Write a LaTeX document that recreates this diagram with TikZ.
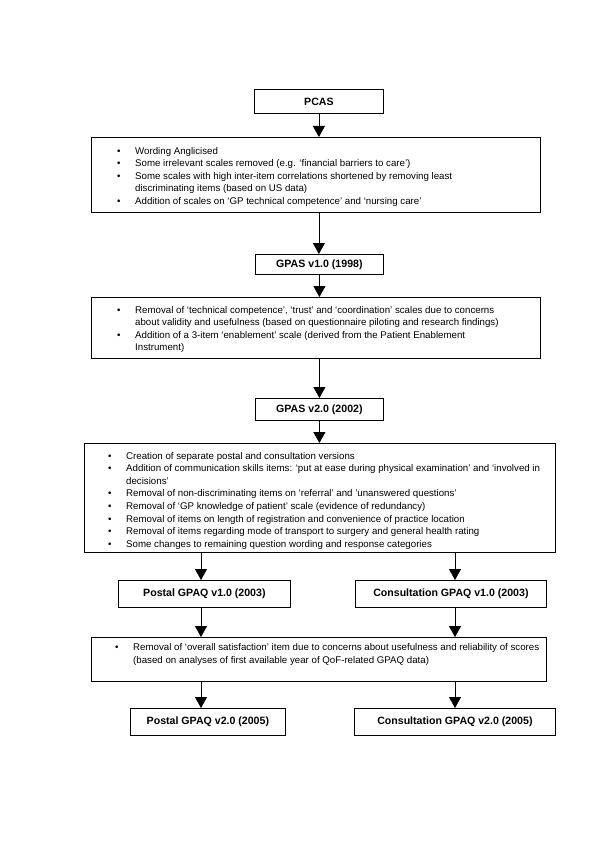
\documentclass[tikz,border=0pt]{standalone}
\usepackage{fontspec}
\setmainfont{Liberation Sans}
\usetikzlibrary{arrows.meta}
\begin{document}
\begin{tikzpicture}[x=1pt,y=-1pt,
  box/.style={draw=black, line width=0.8pt, inner sep=0pt, anchor=north west},
  title/.style={font=\fontsize{10.6}{12.5}\selectfont\bfseries},
  arr/.style={line width=0.8pt, -{Triangle[width=12pt,length=11pt]}},
  list/.style={anchor=north west, inner sep=0pt, font=\fontsize{9.7}{12.6}\selectfont}]
\useasboundingbox[fill=white] (0,0) rectangle (600,850);
% boxes
\node[box, title, minimum width=129pt, minimum height=24pt] (pcas) at (254,89) {PCAS};
\node[box, minimum width=449pt, minimum height=75pt] (b1) at (91,137) {};
\node[box, title, minimum width=128pt, minimum height=20pt] (gpas1) at (255,254) {GPAS v1.0 (1998)};
\node[box, minimum width=449pt, minimum height=61pt] (b2) at (91,297) {};
\node[box, title, minimum width=128pt, minimum height=22pt] (gpas2) at (255,398) {GPAS v2.0 (2002)};
\node[box, minimum width=471pt, minimum height=109pt] (b3) at (84,443) {};
\node[box, title, minimum width=172pt, minimum height=27pt] (pv1) at (118,580) {Postal GPAQ v1.0 (2003)};
\node[box, title, minimum width=191pt, minimum height=27pt] (cv1) at (355,580) {Consultation GPAQ v1.0 (2003)};
\node[box, minimum width=455pt, minimum height=44pt] (b4) at (91,637) {};
\node[box, title, minimum width=155pt, minimum height=27pt] (pv2) at (130,708) {Postal GPAQ v2.0 (2005)};
\node[box, title, minimum width=201pt, minimum height=27pt] (cv2) at (354,708) {Consultation GPAQ v2.0 (2005)};
% lists
\node[list] (t1) at (117,145) {\begin{tabular}{@{}p{18pt}@{}l@{}}
\textbullet & Wording Anglicised\\
\textbullet & Some irrelevant scales removed (e.g. ‘financial barriers to care’)\\
\textbullet & Some scales with high inter-item correlations shortened by removing least\\
 & discriminating items (based on US data)\\
\textbullet & Addition of scales on ‘GP technical competence’ and ‘nursing care’
\end{tabular}};
\node[list] (t2) at (117,304) {\begin{tabular}{@{}p{18pt}@{}l@{}}
\textbullet & Removal of ‘technical competence’, ‘trust’ and ‘coordination’ scales due to concerns\\
 & about validity and usefulness (based on questionnaire piloting and research findings)\\
\textbullet & Addition of a 3-item ‘enablement’ scale (derived from the Patient Enablement\\
 & Instrument)
\end{tabular}};
\node[list] (t3) at (108,450) {\begin{tabular}{@{}p{18pt}@{}l@{}}
\textbullet & Creation of separate postal and consultation versions\\
\textbullet & Addition of communication skills items: ‘put at ease during physical examination’ and ‘involved in\\
 & decisions’\\
\textbullet & Removal of non-discriminating items on ‘referral’ and ’unanswered questions’\\
\textbullet & Removal of ‘GP knowledge of patient’ scale (evidence of redundancy)\\
\textbullet & Removal of items on length of registration and convenience of practice location\\
\textbullet & Removal of items regarding mode of transport to surgery and general health rating\\
\textbullet & Some changes to remaining question wording and response categories
\end{tabular}};
\node[list] (t4) at (115,641.5) {\begin{tabular}{@{}p{18pt}@{}l@{}}
\textbullet & Removal of ‘overall satisfaction’ item due to concerns about usefulness and reliability of scores\\
 & (based on analyses of first available year of QoF-related GPAQ data)
\end{tabular}};
% connectors
\coordinate (lx) at (201,0);
\coordinate (rx) at (455,0);
\draw[arr] (pcas.south) -- (pcas.south |- b1.north);
\draw[arr] (b1.south -| pcas.south) -- (pcas.south |- gpas1.north);
\draw[arr] (gpas1.south) -- (gpas1.south |- b2.north);
\draw[arr] (b2.south -| gpas1.south) -- (gpas1.south |- gpas2.north);
\draw[arr] (gpas2.south) -- (gpas2.south |- b3.north);
\draw[arr] (b3.south -| lx) -- (pv1.north -| lx);
\draw[arr] (b3.south -| rx) -- (cv1.north -| rx);
\draw[arr] (pv1.south -| lx) -- (b4.north -| lx);
\draw[arr] (cv1.south -| rx) -- (b4.north -| rx);
\draw[arr] (b4.south -| lx) -- (pv2.north -| lx);
\draw[arr] (b4.south -| rx) -- (cv2.north -| rx);
\end{tikzpicture}
\end{document}
